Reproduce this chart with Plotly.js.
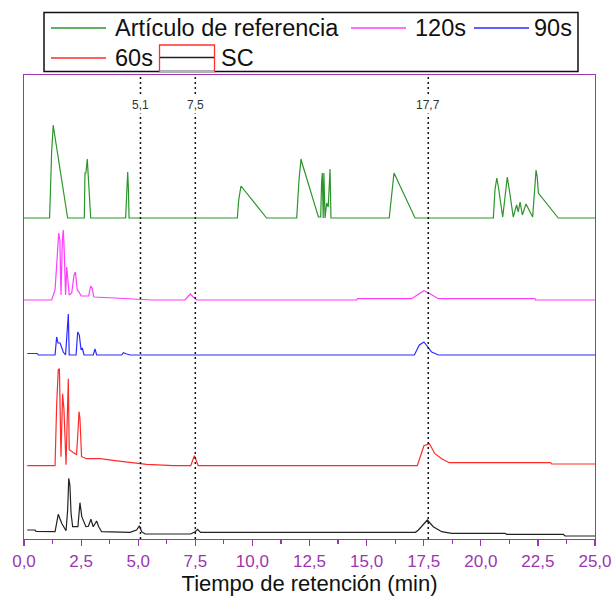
<!DOCTYPE html>
<html>
<head>
<meta charset="utf-8">
<script src="https://cdn.plot.ly/plotly-3.0.1.min.js"></script>
<style>
  html, body { margin: 0; padding: 0; background: #fff; }
  #chart { width: 613px; height: 596px; }
</style>
</head>
<body>
<div id="chart"></div>
<script>
// ---------------- data (retention time in min, signal above each trace's own baseline) ----------------
const seriesNames = ["Artículo de referencia", "120s", "90s", "60s", "SC"];

const refT = [0, 1.12, 1.15, 1.21, 1.28, 1.31, 1.91, 2.64, 2.67, 2.71, 2.77, 2.82, 2.92, 4.45, 4.50, 4.54, 4.57, 4.60,
  9.34, 9.40, 9.50, 10.62, 11.94, 11.97, 12.04, 12.13, 12.16, 12.89, 12.99, 13.03, 13.06, 13.10, 13.13, 13.18, 13.25,
  13.32, 13.40, 13.44, 15.99, 16.20, 17.12, 20.55, 20.62, 20.70, 20.77, 20.96, 21.09, 21.16, 21.25, 21.42, 21.57, 21.64,
  21.72, 21.82, 21.98, 22.05, 22.27, 22.42, 22.47, 22.52, 23.39, 25];
const refY = [0, 0, 21, 66, 93, 88, 0, 0, 45, 45, 59, 38, 0, 0, 40, 46, 30, 0,
  0, 18, 32, 0, 0, 15, 38, 59, 56, 1, 1, 36, 45, 0, 45, 0, 15,
  11, 49, 0, 0, 45, 0, 0, 28, 40, 31, 1, 28, 41, 28, 1, 13, 6,
  16, 3, 14, 11, 1, 48, 41, 25, 0, 0];

const s120T = [0, 1.21, 1.36, 1.45, 1.52, 1.57, 1.62, 1.68, 1.72, 1.76, 1.82, 1.87, 1.98, 2.09, 2.19, 2.25, 2.33, 2.41,
  2.50, 2.83, 2.92, 2.98, 3.06, 3.98, 5.59, 7.05, 7.19, 7.28, 7.41, 7.56, 14.56, 14.60, 16.97, 17.26, 17.51, 17.70,
  18.14, 22.37, 22.40, 25];
const s120Y = [0, 0, 10, 50, 67, 60, 5, 60, 70, 50, 5, 33, 5, 7, 25, 28, 10, 8,
  4, 4, 14, 12, 3, 2, 0, 0, 4, 6, 3, 0, 0, 1.3, 1.3, 6, 9.3, 7.3,
  1.3, 1.3, 0, 0];

const s90T = [0.14, 0.58, 0.63, 1.36, 1.43, 1.49, 1.58, 1.72, 1.82, 1.90, 1.94, 1.98, 2.28, 2.35, 2.42, 2.50, 2.55, 2.63,
  3.03, 3.11, 3.18, 4.28, 4.35, 4.50, 4.64, 17.09, 17.31, 17.51, 17.70, 17.85, 18.14, 25];
const s90Y = [1.5, 1.5, 0, 0, 18, 12, 12, 3, 0, 29, 41, 0, 0, 23, 20, 5, 7, 0,
  0, 6, 0, 0, 2.3, 1, 0, 0, 10, 13, 8, 3, 0, 0];

const s60T = [0.14, 1.36, 1.43, 1.50, 1.55, 1.62, 1.69, 1.75, 1.84, 1.90, 1.94, 1.98, 2.30, 2.35, 2.41, 2.45, 2.52, 2.74,
  3.33, 3.98, 5.08, 5.37, 6.54, 7.30, 7.46, 7.63, 17.22, 17.51, 17.75, 17.99, 18.29, 18.62, 23.06, 23.10, 25];
const s60Y = [0, 0, 61, 96, 97, 9, 72, 56, 1, 64, 87, 16, 11, 29, 54, 47, 9, 7,
  7, 5, 2.4, 1.4, 0, 0, 10, 0, 0, 20, 22, 12, 7, 3, 3, 1.7, 1.7];

const scT = [0.14, 0.48, 0.53, 1.36, 1.50, 1.65, 1.84, 1.91, 1.96, 2.01, 2.06, 2.13, 2.36, 2.45, 2.53, 2.60, 2.71, 2.82,
  2.93, 3.03, 3.18, 3.27, 3.40, 4.64, 4.93, 5.05, 5.15, 5.30, 7.30, 7.49, 7.60, 7.73, 17.14, 17.27, 17.66, 17.92,
  18.29, 18.72, 21.06, 21.13, 23.61, 23.69, 25];
const scY = [2.3, 2.3, 1, 0.6, 18, 9, 1.6, 22, 54, 47, 19, 5.6, 5.6, 29.6, 15.6, 12.3, 5.6, 6,
  13, 5.6, 11.3, 5.6, 0.6, 0, 2.3, 6.6, 0.6, -1.7, -1.7, 0.6, 3, 0, 0, 2.3, 12.3, 5.6,
  0.6, -1, -1, -2, -2, -3.7, -3.7];

const markerTimes = [5.1, 7.5, 17.7];
const xTickVals = [0, 2.5, 5, 7.5, 10, 12.5, 15, 17.5, 20, 22.5, 25];

// ---------------- styling / stacking ----------------
const colors = ["#2a962a", "#ff3cff", "#2a2aff", "#ff2a2a", "#222222"];
const stackOffsets = [321, 239, 184, 73.3, 6.7];   // vertical stacking of the chromatograms
const purple = "#9c36b0";

const xs = [refT, s120T, s90T, s60T, scT];
const ys = [refY, s120Y, s90Y, s60Y, scY];

const traces = xs.map((t, i) => ({
  type: "scatter", mode: "lines", name: seriesNames[i],
  x: t, y: ys[i].map(v => v + stackOffsets[i]),
  line: { color: colors[i], width: 1.2 },
  showlegend: false, hoverinfo: "skip"
}));

// plot-area geometry (pixels) for decorations placed outside the axes
const L = 24, R = 595, T = 75, B = 539;
const px = x => (x - L) / (R - L);
const py = y => (B - y) / (B - T);

const shapes = [];
const annotations = [];

// dotted reference lines
markerTimes.forEach(m => {
  shapes.push({ type: "line", xref: "x", yref: "paper", x0: m, x1: m, y0: 0, y1: 1,
    line: { color: "#111", width: 1.5, dash: "2px,3px" } });
  annotations.push({ xref: "x", yref: "paper", x: m, y: py(105), text: String(m).replace(".", ","),
    showarrow: false, xanchor: "center", yanchor: "middle", bgcolor: "#fff", borderpad: 1,
    font: { family: "Liberation Sans, Arial, sans-serif", size: 12, color: "#333" } });
});

// custom legend
const legFont = { family: "Liberation Sans, Arial, sans-serif", size: 23.5, color: "#111" };
shapes.push({ type: "rect", xref: "paper", yref: "paper", x0: px(44), x1: px(578), y0: py(71.5), y1: py(12.5),
  line: { color: "#111", width: 1.5 }, fillcolor: "rgba(0,0,0,0)" });
const legItems = [
  { i: 0, lx: 51, tx: 113, y: 28 },
  { i: 1, lx: 351, tx: 413, y: 28 },
  { i: 2, lx: 474, tx: 532, y: 28 },
  { i: 3, lx: 51, tx: 113, y: 58 }
];
legItems.forEach(it => {
  shapes.push({ type: "line", xref: "paper", yref: "paper", x0: px(it.lx), x1: px(it.lx + 55), y0: py(it.y), y1: py(it.y),
    line: { color: colors[it.i], width: 1.3 } });
  annotations.push({ xref: "paper", yref: "paper", x: px(it.tx), y: py(it.y), text: seriesNames[it.i],
    showarrow: false, xanchor: "left", yanchor: "middle", font: legFont });
});
// SC symbol (boxed)
shapes.push({ type: "rect", xref: "paper", yref: "paper", x0: px(159.5), x1: px(214.5), y0: py(71.5), y1: py(45),
  line: { color: "#ff3030", width: 1.3 }, fillcolor: "rgba(0,0,0,0)" });
shapes.push({ type: "line", xref: "paper", yref: "paper", x0: px(160), x1: px(214), y0: py(57.5), y1: py(57.5),
  line: { color: colors[4], width: 1.3 } });
shapes.push({ type: "line", xref: "paper", yref: "paper", x0: px(160), x1: px(214), y0: py(71.5), y1: py(71.5),
  line: { color: "#40e8f0", width: 1.5 } });
annotations.push({ xref: "paper", yref: "paper", x: px(219), y: py(58), text: seriesNames[4],
  showarrow: false, xanchor: "left", yanchor: "middle", font: legFont });

const layout = {
  width: 613, height: 596,
  margin: { l: L, r: 613 - R, t: T, b: 596 - B },
  paper_bgcolor: "#fff", plot_bgcolor: "#fff",
  separators: ",.",
  font: { family: "Liberation Sans, Arial, sans-serif", color: "#111" },
  xaxis: {
    range: [0, 25], showgrid: false, zeroline: false,
    showline: true, linecolor: purple, linewidth: 1.2, mirror: true,
    tickmode: "array", tickvals: xTickVals, tickformat: ".1f",
    ticks: "outside", ticklen: 6, tickwidth: 1.2, tickcolor: purple,
    tickfont: { size: 17, color: purple, family: "Liberation Sans, Arial, sans-serif" },
    minor: { dtick: 1.25, tick0: 0, ticks: "outside", ticklen: 3.5, tickwidth: 1.2, tickcolor: purple, showgrid: false },
    title: { text: "Tiempo de retención (min)", standoff: 7,
      font: { size: 22, color: "#111", family: "Liberation Sans, Arial, sans-serif" } }
  },
  yaxis: {
    range: [0, B - T], showgrid: false, zeroline: false, showticklabels: false, ticks: "",
    showline: true, linecolor: purple, linewidth: 1.2, mirror: true
  },
  shapes: shapes,
  annotations: annotations,
  showlegend: false
};

Plotly.newPlot("chart", traces, layout, { staticPlot: true, displayModeBar: false });
</script>
</body>
</html>
